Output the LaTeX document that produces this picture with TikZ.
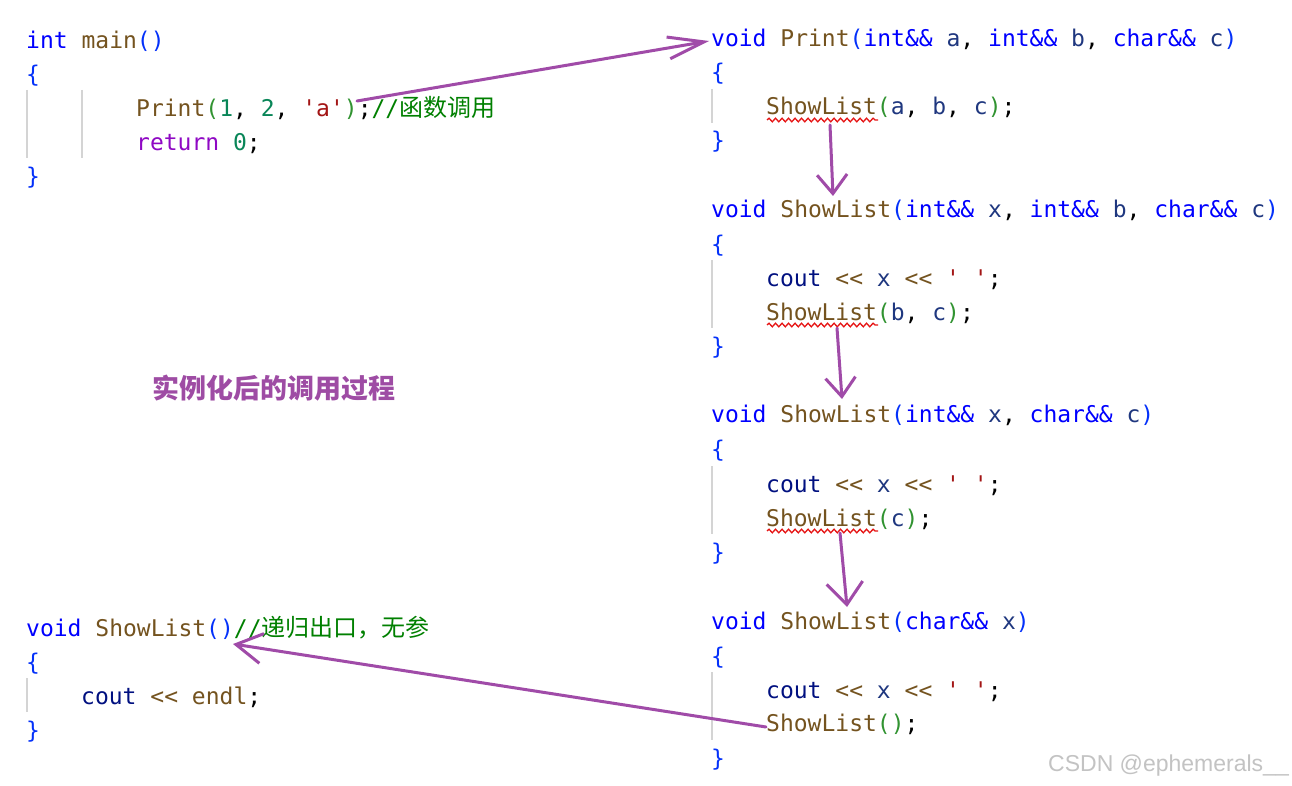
\documentclass[tikz,border=0pt]{standalone}
\usepackage{fontspec}
\setmonofont{DejaVu Sans Mono}
\newfontfamily\cjk{Noto Sans CJK SC}
\newfontfamily\wmfont{Liberation Sans}
\usetikzlibrary{arrows.meta,decorations.pathmorphing}
\definecolor{kwc}{RGB}{0,0,255}
\definecolor{brc}{RGB}{4,49,250}
\definecolor{fnc}{RGB}{116,83,31}
\definecolor{varc}{RGB}{31,55,127}
\definecolor{coutc}{RGB}{0,16,128}
\definecolor{strc}{RGB}{163,21,21}
\definecolor{numc}{RGB}{9,134,88}
\definecolor{retc}{RGB}{143,8,196}
\definecolor{cmtc}{RGB}{0,128,0}
\definecolor{prc}{RGB}{49,147,49}
\definecolor{arrc}{RGB}{160,75,168}
\definecolor{titc}{RGB}{158,76,164}
\definecolor{guidec}{RGB}{212,212,212}
\definecolor{squigc}{RGB}{230,20,20}
\definecolor{wmc}{RGB}{195,195,195}
\newcommand\cKw[1]{\textcolor{kwc}{#1}}
\newcommand\cBr[1]{\textcolor{brc}{#1}}
\newcommand\cFn[1]{\textcolor{fnc}{#1}}
\newcommand\cVar[1]{\textcolor{varc}{#1}}
\newcommand\cCout[1]{\textcolor{coutc}{#1}}
\newcommand\cStr[1]{\textcolor{strc}{#1}}
\newcommand\cNum[1]{\textcolor{numc}{#1}}
\newcommand\cRet[1]{\textcolor{retc}{#1}}
\newcommand\cCmt[1]{\textcolor{cmtc}{#1}}
\newcommand\cPr[1]{\textcolor{prc}{#1}}
\newcommand\cjkc[1]{{\cjk\fontsize{24}{28}\selectfont #1}}
\newcommand\cOut{\cCout{cout} \cFn{<<} \cVar{x} \cFn{<<} \cStr{' '};}
\tikzset{
  code/.style={anchor=base west, inner sep=0pt, yshift=-2pt, text=black, font=\ttfamily\fontsize{23}{28}\selectfont},
  guide/.style={draw=guidec, line width=2pt},
  squig/.style={draw=squigc, line width=1.3pt, decorate, decoration={snake, amplitude=1.8pt, segment length=6.5pt}},
  callarrow/.style={draw=arrc, line width=3pt, line cap=round},
}
\begin{document}
\begin{tikzpicture}[x=1pt,y=-1pt]
\fill[white] (0,0) rectangle (1292,786);
\useasboundingbox (0,0) rectangle (1292,786);

% ---- main ----
\node[code] (m1) at (26,47) {\cKw{int} \cFn{main}\cBr{()}};
\node[code] (m2) at (26,81) {\cBr{\{}};
\node[code] (m3) at (136,115) {\cFn{Print}\cPr{(}\cNum{1}, \cNum{2}, \cStr{'a'}\cPr{)};\cCmt{//\cjkc{函数调用}}};
\node[code] (m4) at (136,149) {\cRet{return} \cNum{0};};
\node[code] (m5) at (26,183) {\cBr{\}}};
\draw[guide] (27,90) -- (27,158);
\draw[guide] (82,90) -- (82,158);

% ---- Print ----
\node[code] (p1) at (711,45) {\cKw{void} \cFn{Print}\cBr{(}\cKw{int\&\&} \cVar{a}, \cKw{int\&\&} \cVar{b}, \cKw{char\&\&} \cVar{c}\cBr{)}};
\node[code] (p2) at (711,79) {\cBr{\{}};
\node[code] (p3) at (766,113) {\cFn{ShowList}\cPr{(}\cVar{a}, \cVar{b}, \cVar{c}\cPr{)};};
\node[code] (p4) at (711,147) {\cBr{\}}};
\draw[guide] (712,89) -- (712,123);
\draw[squig] (767,120) -- (878,120);

% ---- ShowList(int,int,char) ----
\node[code] (a1) at (711,216) {\cKw{void} \cFn{ShowList}\cBr{(}\cKw{int\&\&} \cVar{x}, \cKw{int\&\&} \cVar{b}, \cKw{char\&\&} \cVar{c}\cBr{)}};
\node[code] (a2) at (711,250) {\cBr{\{}};
\node[code] (a3) at (766,284) {\cOut};
\node[code] (a4) at (766,318) {\cFn{ShowList}\cPr{(}\cVar{b}, \cVar{c}\cPr{)};};
\node[code] (a5) at (711,352) {\cBr{\}}};
\draw[guide] (712,260) -- (712,328);
\draw[squig] (767,325) -- (878,325);

% ---- ShowList(int,char) ----
\node[code] (b1) at (711,420) {\cKw{void} \cFn{ShowList}\cBr{(}\cKw{int\&\&} \cVar{x}, \cKw{char\&\&} \cVar{c}\cBr{)}};
\node[code] (b2) at (711,455) {\cBr{\{}};
\node[code] (b3) at (766,490) {\cOut};
\node[code] (b4) at (766,524) {\cFn{ShowList}\cPr{(}\cVar{c}\cPr{)};};
\node[code] (b5) at (711,558) {\cBr{\}}};
\draw[guide] (712,466) -- (712,534);
\draw[squig] (767,531) -- (878,531);

% ---- ShowList(char) ----
\node[code] (c1) at (711,627) {\cKw{void} \cFn{ShowList}\cBr{(}\cKw{char\&\&} \cVar{x}\cBr{)}};
\node[code] (c2) at (711,662) {\cBr{\{}};
\node[code] (c3) at (766,696) {\cOut};
\node[code] (c4) at (766,729) {\cFn{ShowList}\cPr{()};};
\node[code] (c5) at (711,764) {\cBr{\}}};
\draw[guide] (712,672) -- (712,740);

% ---- ShowList() ----
\node[code] (e1) at (26,634) {\cKw{void} \cFn{ShowList}\cBr{()}\cCmt{//\cjkc{递归出口，无参}}};
\node[code] (e2) at (26,668) {\cBr{\{}};
\node[code] (e3) at (81,702) {\cCout{cout} \cFn{<<} \cFn{endl};};
\node[code] (e4) at (26,736) {\cBr{\}}};
\draw[guide] (27,678) -- (27,712);

% ---- title ----
\node[anchor=west, inner sep=0pt, text=titc, font=\cjk\bfseries\fontsize{27}{30}\selectfont] (title) at (152,388) {实例化后的调用过程};

% ---- watermark ----
\node[anchor=west, inner sep=0pt, text=wmc, font=\wmfont\fontsize{23}{26}\selectfont] (wm) at (1048,766) {CSDN @ephemerals\_\_};

% ---- arrows ----
\coordinate (s1) at (357,101);
\coordinate (t1) at (709,41);
\coordinate (s2) at (830,125);
\coordinate (t2) at (833,196);
\coordinate (s3) at (837,328);
\coordinate (t3) at (842,399);
\coordinate (s4) at (840,533);
\coordinate (t4) at (847,607);
\coordinate (s5) at (766,727);
\coordinate (t5) at (233,644);
\draw[callarrow, -{Straight Barb[length=36pt, width=22pt]}] (s1) -- (t1);
\draw[callarrow, -{Straight Barb[length=19pt, width=30pt]}] (s2) -- (t2);
\draw[callarrow, -{Straight Barb[length=19pt, width=30pt]}] (s3) -- (t3);
\draw[callarrow, -{Straight Barb[length=22pt, width=36pt]}] (s4) -- (t4);
\draw[callarrow, -{Straight Barb[length=26pt, width=30pt]}] (s5) -- (t5);
\end{tikzpicture}
\end{document}
